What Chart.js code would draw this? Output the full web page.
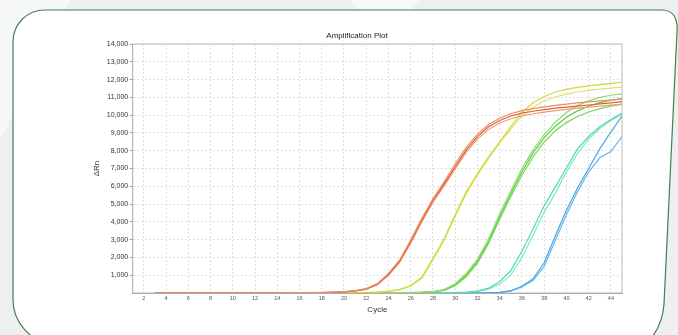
<!DOCTYPE html>
<html><head><meta charset="utf-8">
<script src="https://cdn.jsdelivr.net/npm/chart.js@4.4.1/dist/chart.umd.min.js"></script>
<style>
html,body{margin:0;padding:0;width:678px;height:335px;overflow:hidden;background:#eef0f0;}
#bg{position:absolute;left:0;top:0;}
#c{position:absolute;left:0;top:0;}
</style></head><body>
<svg id="bg" width="678" height="335">
 <polygon points="0,0 70,0 0,140" fill="#f6f7f7"/>
 <polygon points="350,0 420,0 410,10 360,10" fill="#f7f8f8"/>
 <path d="M45,10 L662,10 C673,10 678,18 677,32 L664,304 C663,320 658,330 650,340 L50,345 C30,340 13,322 13,300 L13,42 C13,24 27,10 45,10 Z" fill="#ffffff" stroke="#3f8150" stroke-width="1.2"/>
</svg>
<canvas id="c" width="678" height="335"></canvas>
<script>
const cycles = [3,4,5,6,7,8,9,10,11,12,13,14,15,16,17,18,19,20,21,22,23,24,25,26,27,28,29,30,31,32,33,34,35,36,37,38,39,40,41,42,43,44,45];
const xTicks = [2,4,6,8,10,12,14,16,18,20,22,24,26,28,30,32,34,36,38,40,42,44];
const yTicks = [1000,2000,3000,4000,5000,6000,7000,8000,9000,10000,11000,12000,13000,14000];

const orangeA = [12,10,8,7,7,8,8,9,10,11,12,14,16,19,24,32,46,72,135,245,525,1100,1850,2980,4200,5300,6250,7250,8200,8920,9470,9830,10080,10250,10370,10470,10550,10620,10690,10750,10800,10850,10900];
const orangeB = [8,7,6,5,5,6,6,7,8,9,10,11,13,16,20,28,40,62,122,222,482,1050,1780,2880,4100,5200,6120,7100,8050,8790,9350,9700,9950,10110,10220,10310,10390,10450,10510,10570,10630,10690,10760];
const orangeC = [5,5,4,4,4,5,5,6,6,7,8,9,11,13,17,24,35,55,110,210,460,1000,1720,2800,4000,5100,6020,6980,7920,8650,9200,9560,9800,9960,10080,10170,10250,10320,10390,10450,10510,10560,10610];
const yellowA = [6,5,5,4,4,5,5,5,6,6,7,7,8,9,10,11,12,13,16,26,50,100,200,420,880,1950,3050,4400,5700,6700,7650,8500,9350,10150,10700,11050,11300,11450,11560,11650,11720,11790,11850];
const yellowB = [4,4,3,3,3,4,4,4,5,5,6,6,7,8,8,9,10,11,14,22,44,90,180,380,820,1850,2950,4300,5600,6620,7570,8420,9220,9950,10450,10800,11020,11180,11300,11390,11460,11520,11580];
const greenA = [3,3,3,3,4,4,4,4,5,5,5,6,6,6,7,7,8,8,9,10,12,15,20,30,45,80,190,520,1100,1900,3050,4450,5750,7000,8050,8900,9600,10150,10550,10800,11000,11120,11200];
const greenB = [2,2,2,3,3,3,3,4,4,4,5,5,5,6,6,6,7,7,8,9,10,13,17,26,40,70,160,460,1000,1780,2900,4280,5580,6820,7880,8720,9380,9880,10240,10500,10700,10840,10930];
const greenC = [1,1,1,2,2,2,2,3,3,3,4,4,4,5,5,5,6,6,7,8,9,11,15,23,36,60,140,410,920,1680,2780,4150,5420,6620,7650,8480,9120,9580,9920,10180,10370,10510,10620];
const tealA = [2,2,2,2,2,3,3,3,3,3,3,4,4,4,4,4,5,5,5,5,6,6,6,7,7,8,10,20,50,110,270,650,1250,2350,3600,4900,5950,7030,8100,8800,9350,9750,10100];
const tealB = [1,1,1,1,1,2,2,2,2,2,2,3,3,3,3,3,4,4,4,4,5,5,5,6,6,7,9,15,40,90,220,500,1000,2000,3250,4550,5600,6800,7850,8650,9250,9700,10050];
const blueA = [1,1,1,1,1,1,2,2,2,2,2,2,2,3,3,3,3,3,3,4,4,4,4,4,5,5,5,6,6,7,10,40,130,380,800,1700,3200,4650,5900,7000,8100,9050,9950];
const blueB = [0,0,0,0,0,1,1,1,1,1,1,1,1,2,2,2,2,2,2,3,3,3,3,3,4,4,4,5,5,6,8,30,110,340,700,1500,2950,4400,5700,6800,7600,7950,8800];

const series = [
  {values: orangeA, color: '#e88e68'},
  {values: orangeB, color: '#e2602e'},
  {values: orangeC, color: '#ec9c7a'},
  {values: yellowA, color: '#d2d832'},
  {values: yellowB, color: '#dde27a'},
  {values: greenA, color: '#8edc74'},
  {values: greenB, color: '#5fce3e'},
  {values: greenC, color: '#79d65c'},
  {values: tealA, color: '#4fdcae'},
  {values: tealB, color: '#7fe6cc'},
  {values: blueA, color: '#4aa6e2'},
  {values: blueB, color: '#6bb8e8'}
];

Chart.defaults.font.family = "'Liberation Sans', Arial, sans-serif";

const boxPlugin = {
  id: 'box',
  beforeDatasetsDraw(chart) {
    const {ctx, chartArea: a} = chart;
    ctx.save();
    ctx.strokeStyle = '#bcbcbc';
    ctx.lineWidth = 1;
    ctx.strokeRect(a.left, a.top, a.right - a.left, a.bottom - a.top);
    ctx.restore();
  }
};

new Chart(document.getElementById('c'), {
  type: 'line',
  data: {
    datasets: series.map(s => ({
      data: cycles.map((c, i) => ({x: c, y: s.values[i]})),
      borderColor: s.color,
      borderWidth: 1.2,
      pointRadius: 0,
      tension: 0,
      fill: false
    }))
  },
  options: {
    responsive: false,
    animation: false,
    devicePixelRatio: 1,
    layout: {padding: {left: 92, right: 56, top: 0, bottom: 17}},
    plugins: {
      legend: {display: false},
      tooltip: {enabled: false},
      title: {
        display: true, text: 'Amplification Plot', color: '#222',
        font: {size: 8, weight: 'normal'},
        padding: {top: 31.2, bottom: 3.2}
      }
    },
    scales: {
      x: {
        type: 'linear', min: 1, max: 45,
        afterBuildTicks: s => { s.ticks = xTicks.map(v => ({value: v})); },
        afterFit: s => { s.height = 25; },
        grid: {color: '#dedede', drawTicks: false},
        border: {color: '#9c9c9c', dash: [2, 2]},
        ticks: {padding: 2, font: {size: 5.5}, color: '#555', maxRotation: 0, autoSkip: false},
        title: {display: true, text: 'Cycle', color: '#333', font: {size: 8}, padding: {top: 0, bottom: 3}}
      },
      y: {
        min: 0, max: 14000,
        afterBuildTicks: s => { s.ticks = yTicks.map(v => ({value: v})); },
        afterFit: s => { s.width = 40.7; },
        grid: {color: '#dedede', tickLength: 3, tickColor: '#9c9c9c'},
        border: {color: '#9c9c9c', dash: [2, 2]},
        ticks: {padding: 1.5, font: {size: 7}, color: '#333', callback: v => v.toLocaleString('en-US')},
        title: {display: true, text: 'ΔRn', color: '#333', font: {size: 8}, padding: 0}
      }
    }
  },
  plugins: [boxPlugin]
});
</script>
</body></html>
